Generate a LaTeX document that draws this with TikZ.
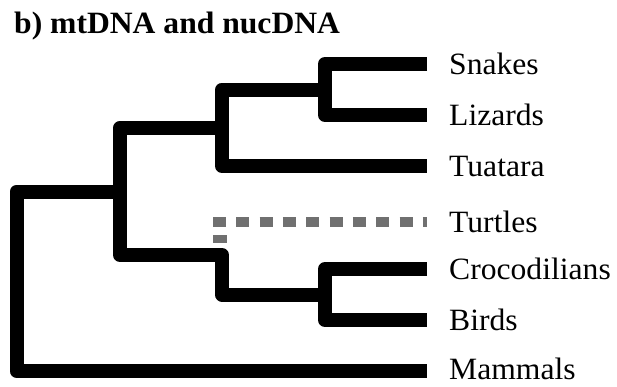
\documentclass[tikz,border=0pt]{standalone}
\usepackage{fontspec}
\setmainfont{Liberation Serif}
\newfontfamily\labfont[FakeStretch=1.02]{Liberation Serif}
\newfontfamily\titfont[FakeStretch=1.02]{Liberation Serif}
\definecolor{turtlegray}{RGB}{112,112,112}
\begin{document}
\begin{tikzpicture}[x=1pt,y=-1pt,
  branch/.style={line width=14pt, line join=round, line cap=butt, draw=black},
  turtledash/.style={line width=10pt, draw=turtlegray, line cap=butt, dash pattern=on 13pt off 10.33pt},
  turtlebit/.style={line width=14pt, draw=turtlegray, line cap=butt},
  taxon/.style={anchor=base west, inner sep=0pt, text depth=0pt, font=\labfont\fontsize{31}{36}\selectfont},
  heading/.style={anchor=base west, inner sep=0pt, font=\titfont\bfseries\fontsize{31}{36}\selectfont}]
\useasboundingbox[fill=white] (0,0) rectangle (617,386);

% tips
\coordinate (tipS)  at (427,64);
\coordinate (tipL)  at (427,115);
\coordinate (tipTu) at (427,166);
\coordinate (tipTt) at (427,222);
\coordinate (tipC)  at (427,269);
\coordinate (tipB)  at (427,320);
\coordinate (tipM)  at (427,371);
% internal nodes
\coordinate (nSL)   at (325,89.5);
\coordinate (nSLT)  at (222,127.75);
\coordinate (nCB)   at (325,294.5);
\coordinate (nTCB)  at (222,255);
\coordinate (nSau)  at (120,191.5);
\coordinate (nRoot) at (16.5,282);
% turtle dashed helpers
\coordinate (tStart) at (213,222);
\coordinate (tBitA)  at (220,235);
\coordinate (tBitB)  at (220,243);

\node[heading] (title) at (14,33) {b) mtDNA and nucDNA};

\draw[branch] (tipS) -| (nSL) |- (tipL);
\draw[branch] (nSL) -| (nSLT) |- (tipTu);
\draw[branch] (tipC) -| (nCB) |- (tipB);
\draw[branch] (nSLT) -| (nSau) |- (nTCB) |- (nCB);
\draw[branch] (nSau) -| (nRoot) |- (tipM);

\draw[turtledash] (tStart) -- (tipTt);
\draw[turtlebit] (tBitA) -- (tBitB);

\node[taxon] (Snakes) at (449,74) {Snakes};
\node[taxon] (Lizards) at (449,125) {Lizards};
\node[taxon] (Tuatara) at (449,176) {Tuatara};
\node[taxon] (Turtles) at (449,232) {Turtles};
\node[taxon] (Croc) at (449,279.5) {Crocodilians};
\node[taxon] (Birds) at (449,330) {Birds};
\node[taxon] (Mammals) at (449,379.5) {Mammals};
\end{tikzpicture}
\end{document}
